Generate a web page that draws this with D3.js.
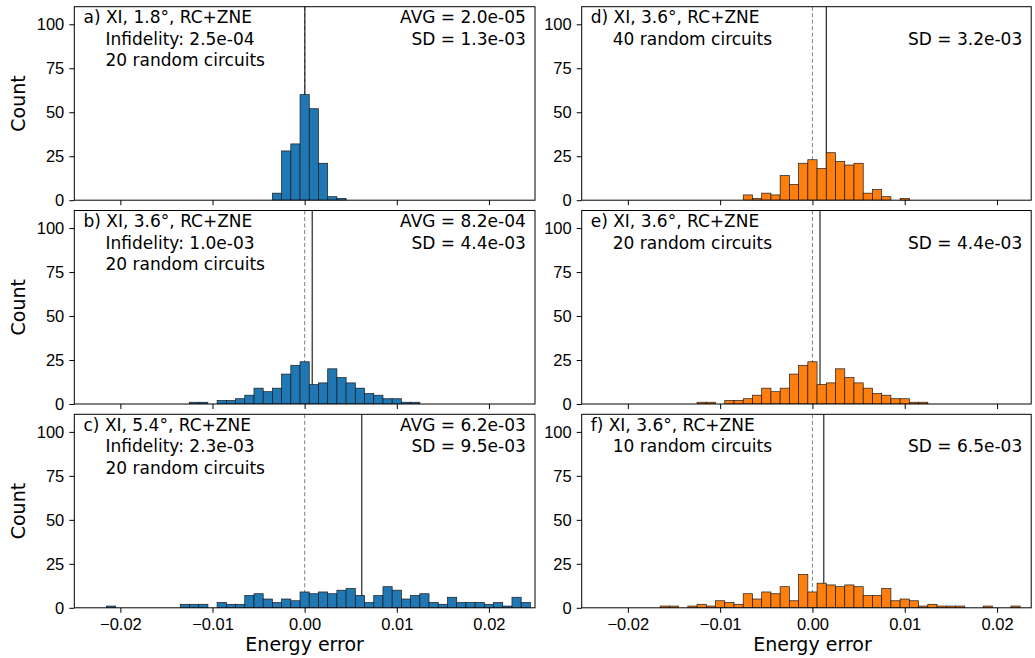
<!DOCTYPE html>
<html><head><meta charset="utf-8">
<script src="https://cdn.jsdelivr.net/npm/d3@7"></script>
<style>body{margin:0;background:#fff}svg{display:block;font-family:"DejaVu Sans",sans-serif}</style>
</head><body><svg id="c" width="1035" height="658"></svg>
<script>
const binWidth = 0.001;
const xTicks = [-0.02,-0.01,0,0.01,0.02];
const xTickLabels = ["\u22120.02","\u22120.01","0.00","0.01","0.02"];
const yTicks = [0,25,50,75,100];

const centersA = [-0.003,-0.002,-0.001,0,0.001,0.002,0.003,0.004];
const countsA  = [4,28,32,60,52,21,2,1];
const centersB = [-0.012,-0.011,-0.009,-0.008,-0.007,-0.006,-0.005,-0.004,-0.003,-0.002,-0.001,0,0.001,0.002,0.003,0.004,0.005,0.006,0.007,0.008,0.009,0.010,0.011,0.012];
const countsB  = [1,1,2,2,3,5,9,7,9,17,22,24,11,12,20,15,12,9,6,5,3,3,1,1];
const centersC = [-0.021,-0.013,-0.012,-0.011,-0.009,-0.008,-0.007,-0.006,-0.005,-0.004,-0.003,-0.002,-0.001,0,0.001,0.002,0.003,0.004,0.005,0.006,0.007,0.008,0.009,0.010,0.011,0.012,0.013,0.014,0.015,0.016,0.017,0.018,0.019,0.020,0.021,0.022,0.023,0.024];
const countsC  = [1,2,2,2,3,2,2,7,8,5,3,5,4,9,8,9,8,10,11,7,3,7,12,10,5,7,8,3,2,6,3,3,3,2,3,1,6,3];
const centersD = [-0.007,-0.006,-0.005,-0.004,-0.003,-0.002,-0.001,0,0.001,0.002,0.003,0.004,0.005,0.006,0.007,0.008,0.010];
const countsD  = [3,1,4,3,14,9,21,23,18,27,22,20,21,4,6,2,1];
const centersE = [-0.012,-0.011,-0.009,-0.008,-0.007,-0.006,-0.005,-0.004,-0.003,-0.002,-0.001,0,0.001,0.002,0.003,0.004,0.005,0.006,0.007,0.008,0.009,0.010,0.011,0.012];
const countsE  = [1,1,2,2,3,5,9,7,9,17,22,24,11,12,20,15,12,9,6,5,3,3,1,1];
const centersF = [-0.016,-0.015,-0.013,-0.012,-0.011,-0.010,-0.009,-0.008,-0.007,-0.006,-0.005,-0.004,-0.003,-0.002,-0.001,0,0.001,0.002,0.003,0.004,0.005,0.006,0.007,0.008,0.009,0.010,0.011,0.012,0.013,0.014,0.015,0.016,0.019,0.022];
const countsF  = [1,1,1,2,1,4,3,2,8,5,9,8,12,4,19,9,14,13,12,13,12,7,7,11,4,5,4,1,2,1,1,1,1,1];

const meanLines = [2.0e-5, 8.2e-4, 6.2e-3, 1.5e-3, 8.2e-4, 1.23e-3];
const leftTexts = [
  ["a) XI, 1.8°, RC+ZNE","Infidelity: 2.5e-04","20 random circuits"],
  ["b) XI, 3.6°, RC+ZNE","Infidelity: 1.0e-03","20 random circuits"],
  ["c) XI, 5.4°, RC+ZNE","Infidelity: 2.3e-03","20 random circuits"],
  ["d) XI, 3.6°, RC+ZNE","40 random circuits"],
  ["e) XI, 3.6°, RC+ZNE","20 random circuits"],
  ["f) XI, 3.6°, RC+ZNE","10 random circuits"]];
const rightTexts = [
  ["AVG = 2.0e-05","SD = 1.3e-03"],
  ["AVG = 8.2e-04","SD = 4.4e-03"],
  ["AVG = 6.2e-03","SD = 9.5e-03"],
  ["","SD = 3.2e-03"],
  ["","SD = 4.4e-03"],
  ["","SD = 6.5e-03"]];

const panels = [
  {c:centersA,v:countsA,col:0,row:0,color:"#1f77b4"},
  {c:centersB,v:countsB,col:0,row:1,color:"#1f77b4"},
  {c:centersC,v:countsC,col:0,row:2,color:"#1f77b4"},
  {c:centersD,v:countsD,col:1,row:0,color:"#ff7f0e"},
  {c:centersE,v:countsE,col:1,row:1,color:"#ff7f0e"},
  {c:centersF,v:countsF,col:1,row:2,color:"#ff7f0e"}];

const colX = [[74.3,535],[581.7,1031.2]];
const colDomain = [[-0.025,0.025],[-0.025,0.0237]];
const rowTop = [6.7,210.5,414.3];
const ph = 193.5;
const tickFont = 16.5, annFont = 17, labelFont = 19;

const svg = d3.select("#c");
panels.forEach((p,i)=>{
  const [x0,x1] = colX[p.col];
  const y0 = rowTop[p.row], y1 = y0+ph;
  const x = d3.scaleLinear().domain(colDomain[p.col]).range([x0,x1]);
  const y = d3.scaleLinear().domain([0,110]).range([y1,y0]);
  const g = svg.append("g");
  const cid = "clip"+i;
  svg.append("clipPath").attr("id",cid).append("rect").attr("x",x0).attr("y",y0).attr("width",x1-x0).attr("height",ph);
  const inner = g.append("g").attr("clip-path",`url(#${cid})`);
  inner.append("line").attr("x1",x(0)).attr("x2",x(0)).attr("y1",y0).attr("y2",y1)
    .attr("stroke","#8c8c8c").attr("stroke-width",1.1).attr("stroke-dasharray","4,2.5");
  inner.append("line").attr("x1",x(meanLines[i])).attr("x2",x(meanLines[i])).attr("y1",y0).attr("y2",y1)
    .attr("stroke","#111").attr("stroke-width",1.1);
  inner.selectAll("rect.bar").data(p.c.map((c,k)=>({c,v:p.v[k]}))).join("rect")
    .attr("x",d=>x(d.c-binWidth/2)).attr("width",d=>x(d.c+binWidth/2)-x(d.c-binWidth/2))
    .attr("y",d=>y(d.v)).attr("height",d=>y(0)-y(d.v))
    .attr("fill",p.color).attr("stroke","#1a1a1a").attr("stroke-width",0.7);
  const xa = d3.axisBottom(x).tickValues(xTicks).tickSize(5).tickPadding(5)
    .tickFormat((d,k)=> p.row===2 ? xTickLabels[k] : "");
  const gx = g.append("g").attr("transform",`translate(0,${y1})`).call(xa);
  gx.select(".domain").remove();
  gx.selectAll("line").attr("stroke","#000").attr("stroke-width",1);
  gx.selectAll("text").attr("font-size",tickFont).attr("fill","#000");
  const ya = d3.axisLeft(y).tickValues(yTicks).tickSize(5).tickPadding(5);
  const gy = g.append("g").attr("transform",`translate(${x0},0)`).call(ya);
  gy.select(".domain").remove();
  gy.selectAll("line").attr("stroke","#000").attr("stroke-width",1);
  gy.selectAll("text").attr("font-size",tickFont).attr("fill","#000");
  g.append("rect").attr("x",x0).attr("y",y0).attr("width",x1-x0).attr("height",ph)
    .attr("fill","none").attr("stroke","#000").attr("stroke-width",1);
  const lt = leftTexts[i];
  const indent = 22;
  const w = x1-x0;
  lt.forEach((t,k)=>{
    g.append("text").attr("x",x0+0.02*w+(k>0?indent:0)).attr("y",y0+16.5+k*21.5)
      .attr("font-size",annFont).text(t);
  });
  rightTexts[i].forEach((t,k)=>{
    if(!t) return;
    g.append("text").attr("x",x0+0.98*w).attr("y",y0+16.5+k*21.5)
      .attr("font-size",annFont).attr("text-anchor","end").text(t);
  });
  if(p.col===0){
    svg.append("text").attr("transform",`translate(25,${y0+ph/2}) rotate(-90)`)
      .attr("text-anchor","middle").attr("font-size",labelFont).text("Count");
  }
  if(p.row===2){
    svg.append("text").attr("x",x(0)).attr("y",651)
      .attr("text-anchor","middle").attr("font-size",labelFont).text("Energy error");
  }
});
</script></body></html>
